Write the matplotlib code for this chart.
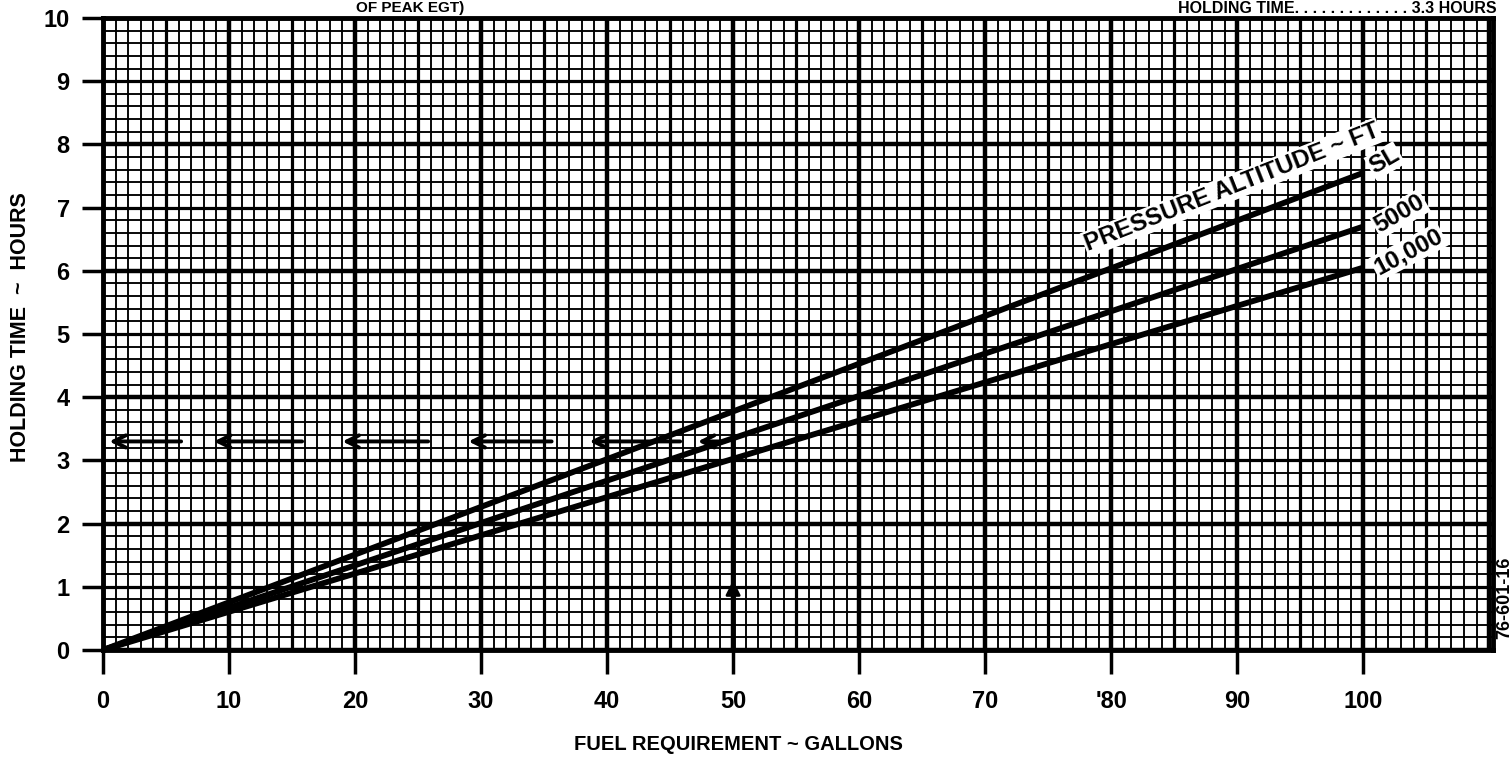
import numpy as np
import matplotlib
matplotlib.use("Agg")
import matplotlib.pyplot as plt

plt.rcParams['font.family'] = ['Liberation Sans', 'DejaVu Sans']
plt.rcParams['font.weight'] = 'bold'

# Dados (galoes -> horas)
fuel_gal = [0, 100]
sl_hours = [0, 7.55]
alt5000_hours = [0, 6.7]
alt10000_hours = [0, 6.05]
series_labels = ["SL", "5000", "10,000"]

x_ticks = [0, 10, 20, 30, 40, 50, 60, 70, 80, 90, 100]
x_ticklabels = ["0", "10", "20", "30", "40", "50", "60", "70", "'80", "90", "100"]
y_ticks = [0, 1, 2, 3, 4, 5, 6, 7, 8, 9, 10]

# exemplo: 50 galoes, 5000 ft -> 3.3 horas
ex_fuel = 50
ex_hours = 3.3
arrow_tips = [0.5, 8.8, 19.0, 29.0, 38.6, 47.2]
arrow_tails = [6.2, 15.8, 25.8, 35.6, 45.8, 49.0]

fig = plt.figure(figsize=(15.11, 7.57), dpi=100)
ax = fig.add_axes([103 / 1511, 1 - 650 / 757, (1493 - 103) / 1511, (650 - 18) / 757])
ax.set_xlim(0, 110.3)
ax.set_ylim(0, 10)

# grade estilo papel milimetrado
for gx in np.arange(0, 111, 1):
    if gx % 10 == 0:
        lw = 3.2
    elif gx % 5 == 0:
        lw = 2.3
    else:
        lw = 1.35
    ax.axvline(gx, color='black', lw=lw, zorder=1)
for gy in np.arange(0, 10.01, 0.2):
    r = round(gy, 1)
    if abs(r - round(r)) < 1e-6:
        lw = 3.2 if int(round(r)) % 2 == 0 else 2.3
    else:
        lw = 1.35
    ax.axhline(r, color='black', lw=lw, zorder=1)

# linhas de altitude
for ys in [sl_hours, alt5000_hours, alt10000_hours]:
    ax.plot(fuel_gal, ys, color='black', lw=4.2, solid_capstyle='butt', zorder=3)

# rotulos das linhas
lbl_box = dict(facecolor='white', edgecolor='none', pad=1)
ax.text(101.7, 7.74, series_labels[0], rotation=30, ha='center', va='center', fontsize=17.5,
        bbox=lbl_box, zorder=5)
ax.text(102.9, 6.9, series_labels[1], rotation=30, ha='center', va='center', fontsize=17.5,
        bbox=lbl_box, zorder=5)
ax.text(103.6, 6.3, series_labels[2], rotation=28, ha='center', va='center', fontsize=17.5,
        bbox=lbl_box, zorder=5)
ax.text(89.6, 7.32, "PRESSURE ALTITUDE ~ FT", rotation=21.5, ha='center', va='center',
        fontsize=17.5, rotation_mode='anchor', bbox=lbl_box, zorder=5)

# caminho do exemplo
ax.plot([ex_fuel, ex_fuel], [0, ex_hours], color='black', lw=3.5, zorder=4)
ax.annotate('', xy=(ex_fuel, 1.15), xytext=(ex_fuel, 0.9),
            arrowprops=dict(arrowstyle='-|>', color='black', lw=2, mutation_scale=22), zorder=4)
for tip, tail in zip(arrow_tips, arrow_tails):
    ax.annotate('', xy=(tip, ex_hours), xytext=(tail, ex_hours),
                arrowprops=dict(arrowstyle='->', color='black', lw=2.8, mutation_scale=22,
                                shrinkA=0, shrinkB=0), zorder=4)

for s in ax.spines.values():
    s.set_linewidth(3.5)
    s.set_zorder(6)

ax.set_xticks(x_ticks)
ax.set_xticklabels(x_ticklabels)
ax.set_yticks(y_ticks)
ax.tick_params(axis='both', direction='out', width=2.5, labelsize=17)
ax.tick_params(axis='y', length=15, pad=9)
ax.tick_params(axis='x', length=17, pad=12)

ax.set_xlabel("FUEL REQUIREMENT ~ GALLONS", fontsize=14.5, fontweight='bold')
ax.set_ylabel("HOLDING TIME  ~  HOURS", fontsize=15.5, fontweight='bold')
ax.xaxis.set_label_coords((738 - 103) / 1390, (650 - 745) / 632)
ax.yaxis.set_label_coords((20 - 103) / 1390, (650 - 327) / 632)
ax.xaxis.label.set_va('center')
ax.yaxis.label.set_va('center')

fig.text(410 / 1511, 1 - 1 / 757, "OF PEAK EGT)", ha='center', va='top', fontsize=11)
fig.text(1497 / 1511, 1 - 1 / 757, "HOLDING TIME. . . . . . . . . . . . . 3.3 HOURS",
         ha='right', va='top', fontsize=11.5)
fig.text(1505 / 1511, 1 - 598 / 757, "76-601-16", rotation=90, ha='center', va='center',
         fontsize=13)

fig.savefig("out.png", dpi=100)
